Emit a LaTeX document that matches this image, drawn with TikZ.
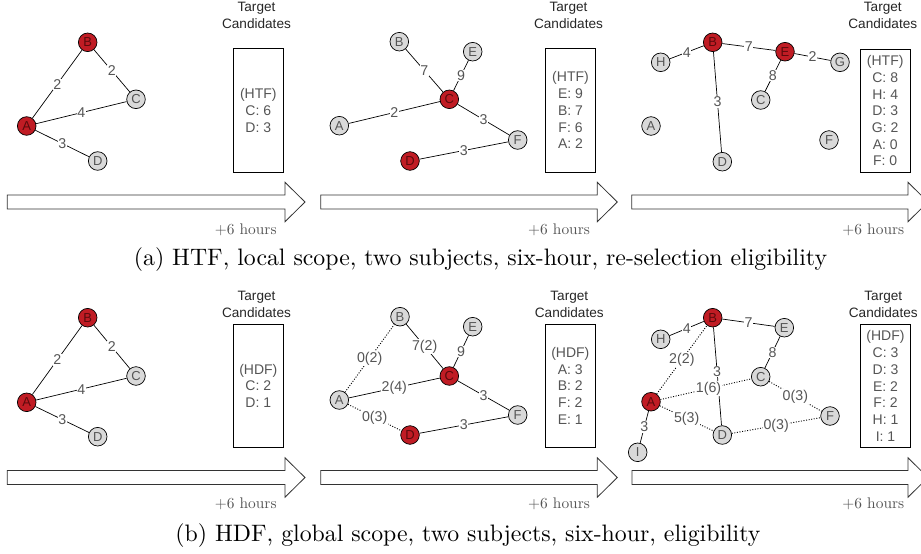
\documentclass[tikz,border=0pt]{standalone}
\usepackage{fontspec}
\newfontfamily\sansf{Liberation Sans}
\definecolor{nodered}{RGB}{192,28,36}
\definecolor{nodegrey}{RGB}{217,217,217}
\definecolor{txtgrey}{RGB}{85,85,85}
\definecolor{redtxt}{RGB}{90,10,12}
\tikzset{
 vbase/.style={circle, draw=black, line width=0.7pt, minimum size=18.6pt, inner sep=0pt, font=\sansf\fontsize{13}{13}\selectfont},
 vred/.style={vbase, fill=nodered, text=redtxt},
 vgry/.style={vbase, fill=nodegrey, text=txtgrey},
 edge/.style={draw=black, line width=0.7pt},
 dedge/.style={draw=black, line width=0.9pt, dash pattern=on 1pt off 1.6pt},
 elab/.style={fill=white, inner sep=0.6pt, font=\sansf\fontsize{14.2}{14.2}\selectfont, text=txtgrey},
 cbox/.style={draw=black, line width=0.8pt, minimum width=49.5pt, minimum height=123.5pt, align=center, font=\sansf\fontsize{14}{16.7}\selectfont, text=txtgrey, inner sep=0pt},
 tgt/.style={align=center, font=\sansf\fontsize{13.6}{16.7}\selectfont, text=black!85},
 hrs/.style={scale=1.54, text=txtgrey, font=\fontsize{10}{12}\selectfont},
 capt/.style={scale=2.38, font=\fontsize{10}{12}\selectfont},
 bigarrow/.style={draw=black!80, fill=white, line width=0.8pt},
}
\newcommand\hourarrow[3]{%
 \draw[bigarrow] (#1,#3-7) -- (#2,#3-7) -- (#2,#3-19.7) -- (#2+20,#3) -- (#2,#3+19.7) -- (#2,#3+7) -- (#1,#3+7) -- cycle;}
\begin{document}
\begin{tikzpicture}[x=1pt,y=-1pt]
\useasboundingbox (0,0) rectangle (921,554);
% ---------- Panel 1 ----------
\node[vred] (A1) at (26.7,126) {A};
\node[vred] (B1) at (87.7,42.3) {B};
\node[vgry] (C1) at (136,99.3) {C};
\node[vgry] (D1) at (97.7,161) {D};
\draw[edge] (A1) -- node[elab]{2} (B1);
\draw[edge] (B1) -- node[elab]{2} (C1);
\draw[edge] (A1) -- node[elab]{4} (C1);
\draw[edge] (A1) -- node[elab]{3} (D1);
\node[cbox] (box1) at (258.3,110.3) {(HTF)\\C: 6\\D: 3};
\node[tgt] (t1) at (256.5,15.7) {Target\\Candidates};
\hourarrow{7.3}{285}{202}
\node[hrs] (h1) at (245.7,229.3) {+6 hours};
% ---------- Panel 2 ----------
\node[vgry] (B2) at (399.3,41.7) {B};
\node[vgry] (E2) at (472.7,51.7) {E};
\node[vred] (C2) at (449.3,99.3) {C};
\node[vgry] (A2) at (339.3,125.7) {A};
\node[vgry] (F2) at (517.7,140) {F};
\node[vred] (D2) at (410,161) {D};
\draw[edge] (B2) -- node[elab]{7} (C2);
\draw[edge] (E2) -- node[elab]{9} (C2);
\draw[edge] (A2) -- node[elab]{2} (C2);
\draw[edge] (C2) -- node[elab]{3} (F2);
\draw[edge] (D2) -- node[elab]{3} (F2);
\node[cbox] (box2) at (570.5,110.3) {(HTF)\\E: 9\\B: 7\\F: 6\\A: 2};
\node[tgt] (t2) at (568.5,15.7) {Target\\Candidates};
\hourarrow{320.7}{597.3}{202}
\node[hrs] (h2) at (559,229.3) {+6 hours};
% ---------- Panel 3 ----------
\node[vred] (B3) at (712.7,42.3) {B};
\node[vgry] (H3) at (660.7,62.3) {H};
\node[vred] (E3) at (785,51.7) {E};
\node[vgry] (G3) at (840,62.3) {G};
\node[vgry] (C3) at (760.7,100) {C};
\node[vgry] (A3) at (651,126) {A};
\node[vgry] (D3) at (722.3,161.7) {D};
\node[vgry] (F3) at (829,140) {F};
\draw[edge] (H3) -- node[elab]{4} (B3);
\draw[edge] (B3) -- node[elab]{7} (E3);
\draw[edge] (E3) -- node[elab]{2} (G3);
\draw[edge] (E3) -- node[elab]{8} (C3);
\draw[edge] (B3) -- node[elab]{3} (D3);
\node[cbox] (box3) at (885.2,110.8) {(HTF)\\C: 8\\H: 4\\D: 3\\G: 2\\A: 0\\F: 0};
\node[tgt] (t3) at (882.8,15.7) {Target\\Candidates};
\hourarrow{631.7}{908}{202}
\node[hrs] (h3) at (873.3,229.3) {+6 hours};
% ---------- Panel 4 ----------
\node[vred] (A4) at (26.7,402.3) {A};
\node[vred] (B4) at (87.7,317.7) {B};
\node[vgry] (C4) at (136,376) {C};
\node[vgry] (D4) at (97.7,436.7) {D};
\draw[edge] (A4) -- node[elab]{2} (B4);
\draw[edge] (B4) -- node[elab]{2} (C4);
\draw[edge] (A4) -- node[elab]{4} (C4);
\draw[edge] (A4) -- node[elab]{3} (D4);
\node[cbox] (box4) at (258.3,385.9) {(HDF)\\C: 2\\D: 1};
\node[tgt] (t4) at (256.5,304.7) {Target\\Candidates};
\hourarrow{7.3}{285}{477.5}
\node[hrs] (h4) at (245.7,504) {+6 hours};
% ---------- Panel 5 ----------
\node[vgry] (B5) at (400,316.7) {B};
\node[vgry] (E5) at (472.7,326.7) {E};
\node[vred] (C5) at (449.3,376) {C};
\node[vgry] (A5) at (339.3,400) {A};
\node[vgry] (F5) at (517.7,415) {F};
\node[vred] (D5) at (410,435) {D};
\draw[dedge] (A5) -- node[elab]{0(2)} (B5);
\draw[dedge] (A5) -- node[elab]{0(3)} (D5);
\draw[edge] (B5) -- node[elab]{7(2)} (C5);
\draw[edge] (E5) -- node[elab]{9} (C5);
\draw[edge] (A5) -- node[elab]{2(4)} (C5);
\draw[edge] (C5) -- node[elab]{3} (F5);
\draw[edge] (D5) -- node[elab]{3} (F5);
\node[cbox] (box5) at (570.3,385.9) {(HDF)\\A: 3\\B: 2\\F: 2\\E: 1};
\node[tgt] (t5) at (569.3,304.7) {Target\\Candidates};
\hourarrow{320.7}{597.3}{477.5}
\node[hrs] (h5) at (559,504) {+6 hours};
% ---------- Panel 6 ----------
\node[vred] (B6) at (712.7,317.7) {B};
\node[vgry] (H6) at (660.7,339.3) {H};
\node[vgry] (E6) at (784.3,327.7) {E};
\node[vgry] (C6) at (760.7,376.7) {C};
\node[vred] (A6) at (651,401.7) {A};
\node[vgry] (F6) at (830,416) {F};
\node[vgry] (D6) at (722.3,435) {D};
\node[vgry] (I6) at (637.7,452.3) {I};
\draw[edge] (B6) -- node[elab, pos=0.45]{3} (D6);
\draw[dedge] (A6) -- node[elab]{2(2)} (B6);
\draw[dedge] (A6) -- node[elab, pos=0.53]{1(6)} (C6);
\draw[dedge] (C6) -- node[elab]{0(3)} (F6);
\draw[dedge] (A6) -- node[elab]{5(3)} (D6);
\draw[dedge] (D6) -- node[elab]{0(3)} (F6);
\draw[edge] (H6) -- node[elab]{4} (B6);
\draw[edge] (B6) -- node[elab]{7} (E6);
\draw[edge] (E6) -- node[elab]{8} (C6);
\draw[edge] (A6) -- node[elab]{3} (I6);
\node[cbox] (box6) at (885.5,386) {(HDF)\\C: 3\\D: 3\\E: 2\\F: 2\\H: 1\\I: 1};
\node[tgt] (t6) at (883.3,304.7) {Target\\Candidates};
\hourarrow{632}{908}{477.5}
\node[hrs] (h6) at (873.3,504) {+6 hours};
% ---------- Captions ----------
\node[capt] (capa) at (480.5,260) {(a) HTF, local scope, two subjects, six-hour, re-selection eligibility};
\node[capt] (capb) at (468,536) {(b) HDF, global scope, two subjects, six-hour, eligibility};
\end{tikzpicture}
\end{document}
